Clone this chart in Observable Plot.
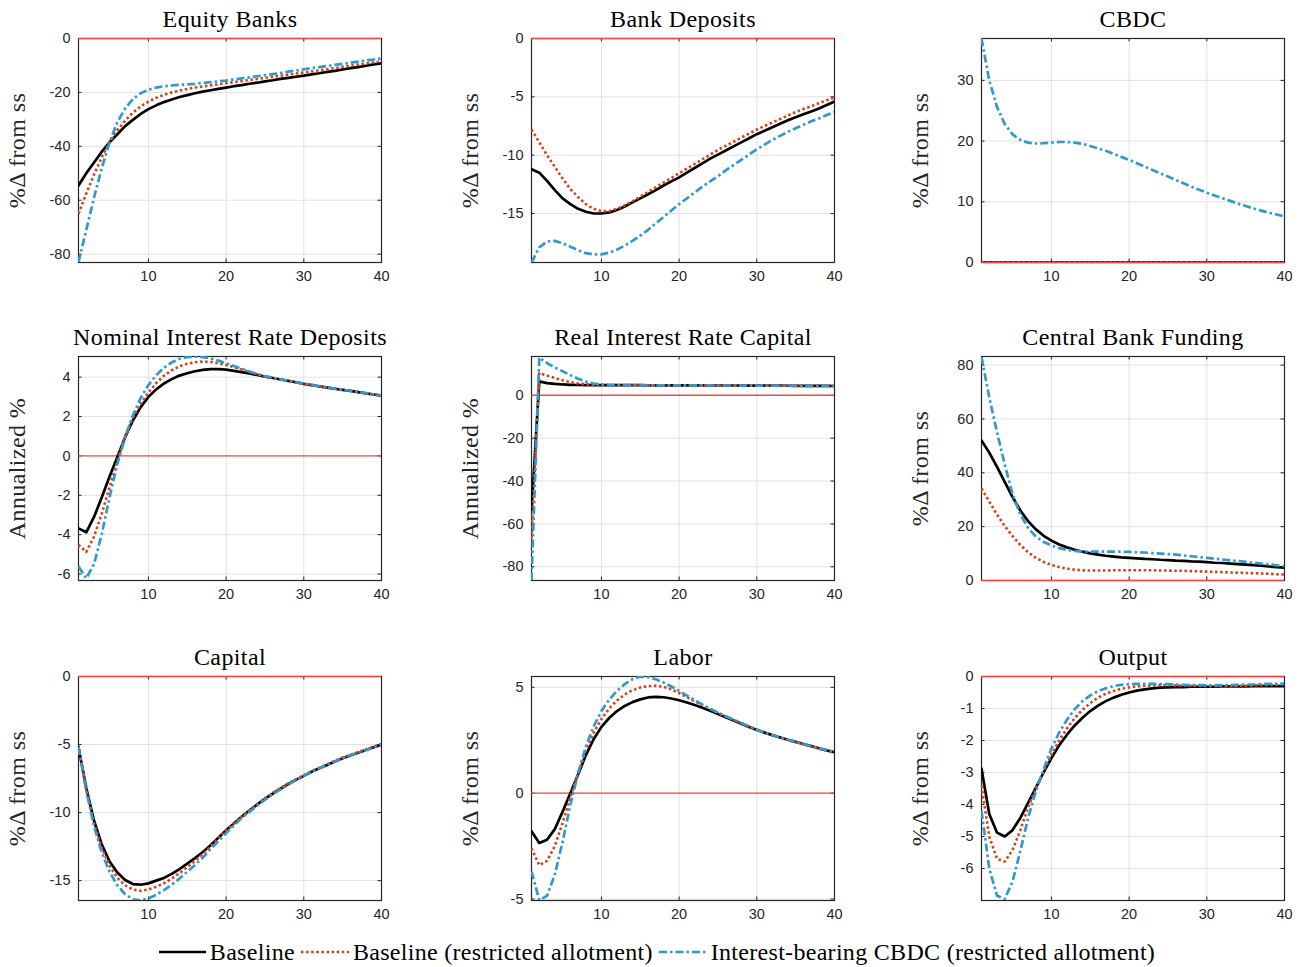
<!DOCTYPE html>
<html>
<head>
<meta charset="utf-8">
<script src="https://cdn.jsdelivr.net/npm/d3@7"></script>
<script src="https://cdn.jsdelivr.net/npm/@observablehq/plot@0.6"></script>
<style>
  body { margin: 0; background: #fff; }
  #root { position: relative; width: 1314px; height: 967px; overflow: hidden; background: #fff; }
  .panel { position: absolute; }
  #legend { position: absolute; left: 0; width: 1314px; top: 940px; display: flex; justify-content: center; align-items: center;
    font-family: "Liberation Serif", serif; font-size: 24px; letter-spacing: 0.3px; line-height: 24px; color: #000; }
  #legend .item { display: flex; align-items: center; margin: 0 3px; }
  #legend svg { margin-right: 4px; }
</style>
</head>
<body>
<div id="root"><div id="legend"></div></div>
<script>
// ---------- data ----------
const periods = [1,2,3,4,5,6,7,8,9,10,11,12,13,14,15,16,17,18,19,20,21,22,23,24,25,26,27,28,29,30,31,32,33,34,35,36,37,38,39,40];
const xTicks = [10, 20, 30, 40];
const seriesNames = ["Baseline", "Baseline (restricted allotment)", "Interest-bearing CBDC (restricted allotment)"];

const titles = ["Equity Banks", "Bank Deposits", "CBDC", "Nominal Interest Rate Deposits", "Real Interest Rate Capital", "Central Bank Funding", "Capital", "Labor", "Output"];
const yLabels = ["%Δ from ss", "%Δ from ss", "%Δ from ss", "Annualized %", "Annualized %", "%Δ from ss", "%Δ from ss", "%Δ from ss", "%Δ from ss"];
const yTicks = [
  [-80, -60, -40, -20, 0],
  [-15, -10, -5, 0],
  [0, 10, 20, 30],
  [-6, -4, -2, 0, 2, 4],
  [-80, -60, -40, -20, 0],
  [0, 20, 40, 60, 80],
  [-15, -10, -5, 0],
  [-5, 0, 5],
  [-6, -5, -4, -3, -2, -1, 0]
];
const yDomains = [
  [-83.1, 0], [-19.2, 0], [0, 36.9],
  [-6.33, 5.05], [-86.4, 18.1], [0, 83.2],
  [-16.46, 0], [-5.07, 5.51], [-7, 0]
];

// Equity Banks
const equityBase  = [-54.5,-50,-46,-42,-38.5,-35.5,-32.5,-30.2,-28,-26.2,-24.8,-23.6,-22.6,-21.7,-21,-20.3,-19.7,-19.2,-18.7,-18.2,-17.7,-17.3,-16.8,-16.4,-15.9,-15.5,-15,-14.6,-14.2,-13.8,-13.3,-12.9,-12.4,-12,-11.5,-11,-10.6,-10.1,-9.6,-9.2];
const equityRestr = [-65,-57.5,-50.5,-44,-38.5,-34,-30.5,-27.5,-25.2,-23.4,-22,-20.9,-20,-19.3,-18.7,-18.2,-17.8,-17.4,-17,-16.6,-16.2,-15.8,-15.4,-15,-14.6,-14.2,-13.8,-13.4,-13,-12.6,-12.2,-11.8,-11.4,-11,-10.5,-10.1,-9.7,-9.3,-8.9,-8.5];
const equityCbdc  = [-83,-71,-59,-48,-38.5,-31,-26,-22.5,-20.3,-19,-18.2,-17.7,-17.4,-17.2,-17,-16.8,-16.5,-16.2,-15.9,-15.6,-15.2,-14.8,-14.4,-14,-13.6,-13.2,-12.8,-12.3,-11.9,-11.4,-11,-10.6,-10.2,-9.8,-9.4,-9,-8.6,-8.2,-7.8,-7.4];

// Bank Deposits
const depositsBase  = [-11.2,-11.5,-12.2,-13,-13.7,-14.2,-14.6,-14.85,-15,-15,-14.9,-14.7,-14.4,-14.05,-13.7,-13.35,-13,-12.6,-12.25,-11.9,-11.5,-11.1,-10.7,-10.3,-9.95,-9.6,-9.25,-8.9,-8.55,-8.2,-7.9,-7.6,-7.3,-7,-6.75,-6.5,-6.25,-6,-5.7,-5.4];
const depositsRestr = [-7.8,-8.9,-10,-11,-12,-12.9,-13.6,-14.2,-14.6,-14.8,-14.8,-14.6,-14.3,-13.95,-13.55,-13.15,-12.75,-12.35,-11.95,-11.55,-11.15,-10.75,-10.35,-9.95,-9.55,-9.2,-8.85,-8.5,-8.15,-7.8,-7.5,-7.2,-6.9,-6.6,-6.3,-6.05,-5.8,-5.55,-5.3,-5.05];
const depositsCbdc  = [-19.2,-17.9,-17.4,-17.35,-17.55,-17.85,-18.15,-18.4,-18.5,-18.5,-18.35,-18.1,-17.75,-17.35,-16.9,-16.4,-15.85,-15.3,-14.75,-14.2,-13.7,-13.2,-12.7,-12.25,-11.8,-11.3,-10.85,-10.4,-9.95,-9.5,-9.1,-8.7,-8.35,-8,-7.7,-7.4,-7.1,-6.85,-6.55,-6.3];

// CBDC
const cbdcBase  = [0,0,0,0,0,0,0,0,0,0,0,0,0,0,0,0,0,0,0,0,0,0,0,0,0,0,0,0,0,0,0,0,0,0,0,0,0,0,0,0];
const cbdcRestr = [0,0,0,0,0,0,0,0,0,0,0,0,0,0,0,0,0,0,0,0,0,0,0,0,0,0,0,0,0,0,0,0,0,0,0,0,0,0,0,0];
const cbdcCbdc  = [36.9,30,25.6,22.8,21.1,20.2,19.75,19.6,19.65,19.75,19.85,19.85,19.75,19.55,19.2,18.8,18.4,17.9,17.4,16.9,16.35,15.8,15.25,14.7,14.15,13.6,13.05,12.5,12,11.5,11.05,10.6,10.15,9.7,9.3,8.9,8.55,8.2,7.9,7.6];

// Nominal Interest Rate Deposits
const nominalBase  = [-3.68,-3.88,-3.1,-2.1,-1.05,-0.05,0.95,1.8,2.48,3,3.38,3.68,3.9,4.08,4.2,4.3,4.37,4.41,4.41,4.38,4.32,4.26,4.19,4.11,4.03,3.96,3.88,3.81,3.74,3.66,3.6,3.53,3.47,3.41,3.35,3.3,3.24,3.18,3.12,3.06];
const nominalRestr = [-4.52,-4.88,-4.1,-2.92,-1.6,-0.25,1,1.95,2.65,3.22,3.7,4.07,4.35,4.55,4.68,4.76,4.79,4.77,4.71,4.62,4.51,4.39,4.27,4.15,4.04,3.96,3.88,3.81,3.74,3.66,3.6,3.53,3.47,3.41,3.35,3.3,3.24,3.18,3.12,3.06];
const nominalCbdc  = [-5.62,-6.22,-5.5,-3.95,-2.1,-0.4,0.95,2.05,2.95,3.6,4.1,4.48,4.75,4.93,5.02,5.04,5.02,4.95,4.84,4.71,4.57,4.43,4.29,4.16,4.05,3.97,3.89,3.82,3.75,3.67,3.61,3.54,3.48,3.42,3.36,3.31,3.25,3.19,3.13,3.07];

// Real Interest Rate Capital
const realBase  = [-54,6.5,5.7,5.3,5.05,4.9,4.8,4.75,4.7,4.7,4.7,4.7,4.7,4.7,4.7,4.68,4.67,4.66,4.65,4.64,4.63,4.62,4.61,4.6,4.59,4.58,4.57,4.56,4.55,4.54,4.52,4.5,4.48,4.46,4.44,4.42,4.4,4.38,4.36,4.34];
const realRestr = [-66.7,10.4,9.2,8.1,7,6.1,5.5,5.1,4.85,4.75,4.72,4.7,4.7,4.7,4.7,4.68,4.67,4.66,4.65,4.64,4.63,4.62,4.61,4.6,4.59,4.58,4.57,4.56,4.55,4.54,4.52,4.5,4.48,4.46,4.44,4.42,4.4,4.38,4.36,4.34];
const realCbdc  = [-86.4,17.6,15,13,11.2,9.4,7.7,6.4,5.5,5,4.8,4.72,4.7,4.7,4.7,4.68,4.67,4.66,4.65,4.64,4.63,4.62,4.61,4.6,4.59,4.58,4.57,4.56,4.55,4.54,4.52,4.5,4.48,4.46,4.44,4.42,4.4,4.38,4.36,4.34];

// Central Bank Funding
const fundingBase  = [52,47.5,42.2,36.5,31,26,22,19,16.6,14.8,13.4,12.3,11.4,10.7,10.1,9.6,9.2,8.9,8.6,8.4,8.2,8,7.9,7.7,7.6,7.4,7.3,7.1,7,6.8,6.6,6.5,6.3,6.1,5.9,5.7,5.5,5.2,5,4.8];
const fundingRestr = [34.2,29.3,24.5,20.2,16.5,13.2,10.5,8.4,6.9,5.8,5,4.4,4,3.8,3.7,3.7,3.7,3.8,3.8,3.8,3.8,3.8,3.8,3.7,3.7,3.6,3.6,3.5,3.4,3.3,3.2,3.1,3,2.9,2.8,2.7,2.6,2.5,2.3,2.2];
const fundingCbdc  = [83,68,55,43,32,24.5,19.5,16.3,14.3,13,12,11.4,11,10.8,10.7,10.7,10.7,10.7,10.7,10.6,10.5,10.4,10.2,10,9.8,9.6,9.3,9,8.7,8.4,8.1,7.8,7.5,7.2,6.9,6.6,6.3,6,5.6,5.3];

// Capital
const capitalBase  = [-5.2,-8.2,-10.6,-12.35,-13.6,-14.4,-14.95,-15.25,-15.3,-15.2,-15,-14.8,-14.5,-14.15,-13.75,-13.35,-12.9,-12.4,-11.85,-11.3,-10.8,-10.3,-9.85,-9.4,-9,-8.6,-8.25,-7.9,-7.6,-7.3,-7,-6.75,-6.5,-6.25,-6,-5.8,-5.6,-5.4,-5.2,-5];
const capitalRestr = [-5.2,-8.3,-10.8,-12.6,-13.9,-14.8,-15.35,-15.65,-15.75,-15.65,-15.45,-15.2,-14.85,-14.45,-14,-13.55,-13.05,-12.5,-11.9,-11.3,-10.8,-10.3,-9.85,-9.4,-8.95,-8.55,-8.2,-7.85,-7.55,-7.25,-6.95,-6.7,-6.45,-6.2,-5.95,-5.75,-5.55,-5.35,-5.15,-4.95];
const capitalCbdc  = [-5.2,-8.4,-11,-12.95,-14.35,-15.35,-16,-16.38,-16.45,-16.3,-16.05,-15.7,-15.3,-14.85,-14.35,-13.85,-13.3,-12.7,-12.1,-11.5,-10.95,-10.4,-9.95,-9.5,-9.05,-8.65,-8.3,-7.95,-7.62,-7.3,-7,-6.75,-6.5,-6.25,-6,-5.8,-5.6,-5.4,-5.2,-5];

// Labor
const laborBase  = [-1.8,-2.35,-2.2,-1.7,-0.88,0,0.88,1.8,2.55,3.13,3.55,3.88,4.12,4.3,4.43,4.52,4.55,4.53,4.47,4.39,4.28,4.16,4.03,3.89,3.74,3.58,3.43,3.28,3.13,2.98,2.86,2.74,2.63,2.52,2.42,2.32,2.22,2.12,2.02,1.93];
const laborRestr = [-2.6,-3.4,-3.2,-2.5,-1.4,-0.2,0.95,2,2.85,3.5,4,4.38,4.66,4.86,4.99,5.06,5.07,5.02,4.9,4.73,4.53,4.34,4.16,3.98,3.8,3.62,3.46,3.3,3.15,2.99,2.86,2.74,2.62,2.51,2.41,2.3,2.2,2.1,2,1.9];
const laborCbdc  = [-3.7,-5.05,-4.85,-3.85,-2.3,-0.55,0.95,2.2,3.15,3.88,4.42,4.83,5.15,5.38,5.5,5.48,5.38,5.23,5.04,4.83,4.61,4.39,4.18,3.98,3.8,3.63,3.47,3.31,3.16,3,2.87,2.75,2.63,2.52,2.42,2.32,2.22,2.12,2.03,1.95];

// Output
const outputBase  = [-2.88,-4.3,-4.88,-5,-4.8,-4.42,-3.95,-3.47,-3,-2.55,-2.15,-1.82,-1.53,-1.29,-1.08,-0.91,-0.77,-0.66,-0.57,-0.5,-0.44,-0.4,-0.37,-0.35,-0.34,-0.33,-0.33,-0.32,-0.32,-0.32,-0.32,-0.31,-0.31,-0.31,-0.31,-0.3,-0.3,-0.3,-0.3,-0.3];
const outputRestr = [-3.42,-5,-5.7,-5.78,-5.42,-4.8,-4.08,-3.5,-2.97,-2.45,-2,-1.62,-1.3,-1.04,-0.83,-0.66,-0.54,-0.45,-0.38,-0.34,-0.31,-0.29,-0.28,-0.27,-0.27,-0.28,-0.28,-0.29,-0.29,-0.3,-0.3,-0.3,-0.3,-0.29,-0.29,-0.28,-0.27,-0.27,-0.26,-0.25];
const outputCbdc  = [-4.2,-6,-6.85,-6.95,-6.4,-5.45,-4.42,-3.58,-2.9,-2.25,-1.75,-1.35,-1.02,-0.77,-0.59,-0.46,-0.37,-0.3,-0.26,-0.24,-0.23,-0.23,-0.23,-0.24,-0.24,-0.25,-0.26,-0.27,-0.27,-0.28,-0.28,-0.27,-0.27,-0.26,-0.25,-0.25,-0.24,-0.23,-0.23,-0.22];

const panelSeries = [
  [equityBase, equityRestr, equityCbdc],
  [depositsBase, depositsRestr, depositsCbdc],
  [cbdcBase, cbdcRestr, cbdcCbdc],
  [nominalBase, nominalRestr, nominalCbdc],
  [realBase, realRestr, realCbdc],
  [fundingBase, fundingRestr, fundingCbdc],
  [capitalBase, capitalRestr, capitalCbdc],
  [laborBase, laborRestr, laborCbdc],
  [outputBase, outputRestr, outputCbdc]
];

// ---------- style ----------
const colBlack = "#000000", colRed = "#d4401a", colBlue = "#3399cc", colZero = "#f24a4a";
const dashRed = "2.5 2.6", dashBlue = "8 3 2.5 3";
const colX = [78, 531, 981], rowY = [38, 356, 676];
const FW = 303, FH = 224;
const mL = 80, mR = 14, mT = 42, mB = 34;
const fmt = d => String(d);
const serif = "'Liberation Serif', serif";

const root = document.getElementById("root");

titles.forEach((title, i) => {
  const [base, restr, cbdc] = panelSeries[i];
  const data = periods.map((t, k) => ({t, b: base[k], r: restr[k], c: cbdc[k]}));
  const ticks = yTicks[i];
  const chart = Plot.plot({
    width: mL + FW + mR,
    height: mT + FH + mB,
    marginLeft: mL, marginRight: mR, marginTop: mT, marginBottom: mB,
    style: {fontFamily: "'Liberation Sans', Arial, sans-serif", fontSize: "14.5px", color: "#262626", background: "transparent", overflow: "visible"},
    x: {domain: [1, 40], ticks: xTicks, tickSize: 0, tickPadding: 8, label: null, tickFormat: fmt},
    y: {domain: yDomains[i], ticks: ticks, tickSize: 0, tickPadding: 8, label: null, tickFormat: fmt},
    marks: [
      Plot.ruleX(xTicks, {stroke: "#e2e2e2", strokeWidth: 1}),
      Plot.ruleY(ticks, {stroke: "#e2e2e2", strokeWidth: 1}),
      Plot.frame({stroke: "#262626", strokeWidth: 1.2}),
      Plot.ruleY(ticks, {stroke: "#262626", strokeWidth: 1, insetRight: FW - 3.5}),
      Plot.ruleY(ticks, {stroke: "#262626", strokeWidth: 1, insetLeft: FW - 3.5}),
      Plot.ruleX(xTicks, {stroke: "#262626", strokeWidth: 1, insetTop: FH - 3.5}),
      Plot.ruleX(xTicks, {stroke: "#262626", strokeWidth: 1, insetBottom: FH - 3.5}),
      Plot.ruleY([0], {stroke: colZero, strokeWidth: 1.4}),
      Plot.line(data, {x: "t", y: "b", stroke: colBlack, strokeWidth: 2.7, clip: true}),
      Plot.line(data, {x: "t", y: "r", stroke: colRed, strokeWidth: 2.6, strokeDasharray: dashRed, strokeLinecap: "butt", clip: true}),
      Plot.line(data, {x: "t", y: "c", stroke: colBlue, strokeWidth: 2.7, strokeDasharray: dashBlue, strokeLinecap: "butt", clip: true}),
      Plot.text([title], {text: d => d, frameAnchor: "top", dy: -12, lineAnchor: "bottom", fontFamily: serif, fontSize: 24, fill: "#000", style: "letter-spacing:0.3px"}),
      Plot.text([yLabels[i]], {text: d => d, frameAnchor: "left", textAnchor: "middle", dx: -61, rotate: -90, lineAnchor: "middle", fontFamily: serif, fontSize: 24, fill: "#262626"})
    ]
  });
  chart.classList.add("panel");
  chart.style.left = (colX[i % 3] - mL) + "px";
  chart.style.top = (rowY[Math.floor(i / 3)] - mT) + "px";
  chart.querySelectorAll("text").forEach(t => {
    const fam = t.closest("g") && t.closest("g").getAttribute("font-family");
    if (fam && fam.includes("Serif")) t.style.letterSpacing = "0.4px";
  });
  root.appendChild(chart);
});

// ---------- legend ----------
const legend = document.getElementById("legend");
const legendStyles = [
  {stroke: colBlack, dash: null, w: 47},
  {stroke: colRed, dash: dashRed, w: 48},
  {stroke: colBlue, dash: dashBlue, w: 48}
];
seriesNames.forEach((name, i) => {
  const item = document.createElement("div");
  item.className = "item";
  const s = legendStyles[i];
  const svg = d3.create("svg").attr("width", s.w).attr("height", 12);
  const ln = svg.append("line").attr("x1", 0).attr("x2", s.w).attr("y1", 6).attr("y2", 6)
    .attr("stroke", s.stroke).attr("stroke-width", 2.7);
  if (s.dash) ln.attr("stroke-dasharray", s.dash);
  item.appendChild(svg.node());
  const span = document.createElement("span");
  span.textContent = name;
  item.appendChild(span);
  legend.appendChild(item);
});
</script>
</body>
</html>
